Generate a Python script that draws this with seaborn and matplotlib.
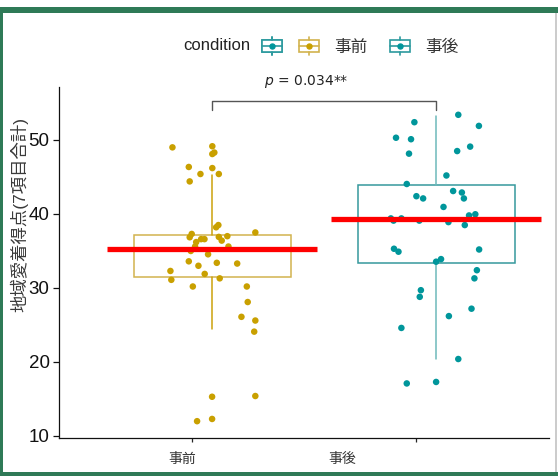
import numpy as np
import pandas as pd
import matplotlib
matplotlib.use('Agg')
import matplotlib.pyplot as plt
import seaborn as sns
from matplotlib.patches import Rectangle
from matplotlib.lines import Line2D
from matplotlib.legend_handler import HandlerBase

sns.set_theme(style='ticks')
plt.rcParams['font.family'] = ['Liberation Sans', 'Noto Sans CJK JP', 'DejaVu Sans']
plt.rcParams['mathtext.fontset'] = 'dejavusans'

# ---- data ----
conditions = ['事前', '事後']

pre_scores = [49.0, 49.15, 48.1, 48.3, 46.35, 46.2, 45.4, 45.4, 44.4, 38.5, 38.2, 37.5,
              37.3, 36.85, 37.0, 36.9, 36.4, 36.6, 36.6, 36.2, 35.6, 35.6, 35.0, 34.55,
              33.6, 33.4, 33.3, 33.0, 32.3, 31.9, 31.1, 31.3, 30.2, 30.2, 28.1, 26.1,
              25.6, 24.1, 15.3, 15.4, 12.0, 12.3]
pre_jitter = [-0.177, 0.001, 0.001, 0.010, -0.104, 0.001, -0.052, 0.030, -0.100, 0.028,
              0.018, 0.193, -0.091, -0.100, 0.068, 0.030, 0.043, -0.049, -0.034, -0.071,
              -0.076, 0.073, -0.095, -0.018, -0.104, 0.021, 0.112, -0.061, -0.186, -0.033,
              -0.182, 0.034, -0.086, 0.155, 0.159, 0.131, 0.193, 0.188, 0.0, 0.193,
              -0.067, 0.0]

post_scores = [53.4, 52.4, 51.9, 50.3, 50.1, 49.1, 48.5, 48.15, 45.2, 44.05, 43.1, 42.9,
               42.1, 42.4, 42.1, 40.95, 39.8, 39.96, 39.4, 39.1, 39.4, 39.1, 38.9, 38.5,
               35.3, 34.9, 35.2, 33.9, 33.55, 32.4, 31.3, 29.7, 28.8, 27.2, 26.2, 24.6,
               20.4, 17.1, 17.3]
post_jitter = [0.099, -0.097, 0.191, -0.179, -0.112, 0.152, 0.094, -0.121, 0.046, -0.131,
               0.076, 0.115, 0.124, -0.088, -0.058, 0.033, 0.147, 0.175, -0.202, -0.190,
               -0.155, -0.075, 0.055, 0.128, -0.188, -0.168, 0.192, 0.022, 0.0, 0.182,
               0.171, -0.068, -0.073, 0.158, 0.057, -0.155, 0.099, -0.131, 0.0]

# box statistics as drawn (median hidden under the red line)
box_q1 = [31.5, 33.4]
box_q3 = [37.2, 43.9]
whisker_low = [24.4, 20.4]
whisker_high = [45.3, 53.2]
mean_line = [35.3, 39.3]

p_label = '$p$ = 0.034**'

# ---- colours ----
point_colors = {'事前': '#C9A000', '事後': '#00969B'}
box_edges = ['#D2B34E', '#35999D']
whisker_colors = ['#CBA20C', '#6DB9BB']

df = pd.DataFrame({
    'condition': ['事前'] * len(pre_scores) + ['事後'] * len(post_scores),
    'score': pre_scores + post_scores,
    'jitter': pre_jitter + post_jitter,
})
df['xpos'] = df['condition'].map({c: i for i, c in enumerate(conditions)}) + df['jitter']

fig = plt.figure(figsize=(5.58, 4.76), dpi=100)
ax = fig.add_axes([0.1063, 0.0805, 0.8776, 0.7374])

# boxes
positions = np.arange(len(conditions))
stats = [dict(med=mean_line[i], q1=box_q1[i], q3=box_q3[i],
              whislo=whisker_low[i], whishi=whisker_high[i], fliers=[])
         for i in range(len(conditions))]
bp = ax.bxp(stats, positions=positions, widths=0.7, showfliers=False, showcaps=False,
            patch_artist=True, manage_ticks=False)
for i, box in enumerate(bp['boxes']):
    box.set_facecolor('white')
    box.set_edgecolor(box_edges[i])
    box.set_linewidth(1.1)
    box.set_zorder(1)
for j, w in enumerate(bp['whiskers']):
    w.set_color(whisker_colors[j // 2])
    w.set_linewidth(1.1)
for m in bp['medians']:
    m.set_visible(False)

# jittered points
sns.scatterplot(data=df, x='xpos', y='score', hue='condition', palette=point_colors,
                s=22, linewidth=0, legend=False, ax=ax, zorder=3)

# red mean lines
ax.hlines(mean_line, positions - 0.47, positions + 0.47, color='#FF0000', lw=3.8, zorder=4)

# significance bracket
br_top, br_leg = 55.2, 1.2
ax.plot([0, 0, 1, 1], [br_top - br_leg, br_top, br_top, br_top - br_leg],
        color='#555555', lw=1.0, clip_on=False)
ax.text(0.42, 57.9, p_label, ha='center', va='center', fontsize=10,
        family='DejaVu Sans', color='#222222', clip_on=False)

ax.set_xlim(-0.682, 1.504)
ax.set_ylim(9.77, 57.2)
ax.set_yticks([10, 20, 30, 40, 50])
ax.tick_params(axis='y', labelsize=13.5, length=4, width=0.9, pad=3, colors='#111111')
# x ticks and labels sit slightly left of the boxes in the original
ax.set_xticks(positions - 0.088)
ax.set_xticklabels([])
ax.set_xticks([-0.135, 0.583], minor=True)
ax.set_xticklabels(conditions, minor=True)
ax.tick_params(axis='x', which='major', length=3, width=0.9)
ax.tick_params(axis='x', which='minor', length=0, pad=10, labelsize=10, labelcolor='#333333')
ax.set_xlabel('')
ax.set_ylabel('地域愛着得点(7項目合計)', fontsize=12.5, color='#3a3a3a')
ax.yaxis.set_label_coords(-0.063, 0.637)
sns.despine(ax=ax)
for s in ['left', 'bottom']:
    ax.spines[s].set_linewidth(0.9)
    ax.spines[s].set_color('#111111')


# legend key: small boxplot glyph with a dot
class BoxKey(HandlerBase):
    def __init__(self, edge, dot):
        super().__init__()
        self.edge = edge
        self.dot = dot

    def create_artists(self, legend, orig_handle, xdescent, ydescent, width, height,
                       fontsize, trans):
        x0, y0 = -xdescent, -ydescent
        cx, cy = x0 + width / 2, y0 + height / 2
        kw = dict(color=self.edge, lw=1.2, transform=trans)
        box = Rectangle((x0, y0 + 0.16 * height), width, 0.68 * height, facecolor='white',
                        edgecolor=self.edge, lw=1.2, transform=trans)
        med = Line2D([x0, x0 + width], [cy, cy], **kw)
        top = Line2D([cx, cx], [y0 + 0.84 * height, y0 + height], **kw)
        bot = Line2D([cx, cx], [y0, y0 + 0.16 * height], **kw)
        dot = Line2D([cx], [cy], marker='o', ms=3.6, color=self.dot, lw=0, transform=trans)
        return [box, med, top, bot, dot]


h0, h1, h2 = Line2D([], []), Line2D([], []), Line2D([], [])
leg_y = 1 - 46 / 476
leg_kw = dict(fontsize=12, frameon=False, borderpad=0, borderaxespad=0, handlelength=1.2,
              handleheight=1.26, handletextpad=0.93, columnspacing=1.32,
              loc='center left', bbox_transform=fig.transFigure)
leg0 = fig.legend([h0], [''], bbox_to_anchor=(262 / 558, leg_y),
                  handler_map={h0: BoxKey('#2C9A9E', '#00969B')}, **leg_kw)
leg1 = fig.legend([h1, h2], conditions, ncol=2, bbox_to_anchor=(299 / 558, leg_y),
                  handler_map={h1: BoxKey('#D2B34E', '#C9A000'),
                               h2: BoxKey('#2C9A9E', '#00969B')}, **leg_kw)
for t in leg1.get_texts():
    t.set_color('#333333')
fig.add_artist(leg0)
fig.text(183 / 558, leg_y, 'condition', ha='left', va='center', fontsize=12, color='#222222')

# green frame around the picture
green = '#2F7A57'
fig.add_artist(Rectangle((0, 1 - 13 / 476), 1, 6 / 476, transform=fig.transFigure,
                         color=green, lw=0))
fig.add_artist(Rectangle((0, 0), 3 / 558, 1 - 7 / 476, transform=fig.transFigure,
                         color=green, lw=0))
fig.add_artist(Rectangle((0, 0), 1, 4 / 476, transform=fig.transFigure,
                         color=green, lw=0))
fig.add_artist(Rectangle((555 / 558, 4 / 476), 1.5 / 558, 1 - 17 / 476,
                         transform=fig.transFigure, color='#CCCCCC', lw=0))

fig.savefig('out.png', dpi=100)
